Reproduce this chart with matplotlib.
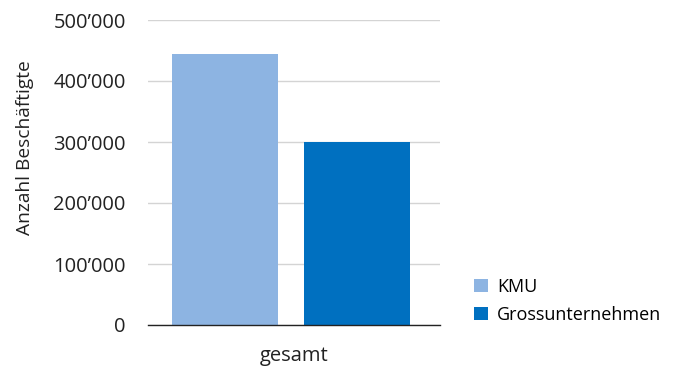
import matplotlib.pyplot as plt
from matplotlib.ticker import FuncFormatter

plt.rcParams['font.family'] = ['Open Sans', 'DejaVu Sans']

categories = ["gesamt"]
series_names = ["KMU", "Grossunternehmen"]
kmu = [445000]
gross = [300000]
colors = ["#8db4e2", "#0070c0"]

fig = plt.figure(figsize=(6.73, 3.67), dpi=100)
ax = fig.add_axes([148 / 673, 1 - 325 / 367, 292 / 673, 305 / 367])

width = 0.363
offsets = [-0.226, 0.226]
for vals, name, col, off in zip([kmu, gross], series_names, colors, offsets):
    xs = [i + off - 0.01 for i in range(len(categories))]
    ax.bar(xs, vals, width=width, color=col, label=name, zorder=2)

ax.set_xlim(-0.5, 0.5)
ax.set_ylim(0, 500000)
ax.set_yticks(range(0, 500001, 100000))
ax.yaxis.set_major_formatter(FuncFormatter(
    lambda v, p: "0" if v == 0 else f"{int(v):,}".replace(",", "\u2019")))
ax.set_xticks(range(len(categories)))
ax.set_xticklabels(categories)

ax.grid(axis="y", color="#d4d4d4", linewidth=1, zorder=0)
for s in ["top", "right", "left"]:
    ax.spines[s].set_visible(False)
ax.spines["bottom"].set_color("#222222")
ax.spines["bottom"].set_linewidth(1)
ax.tick_params(axis="both", length=0, colors="#222222")
ax.tick_params(axis="y", pad=16, labelsize=14.5)
ax.tick_params(axis="x", pad=15, labelsize=14.5)

ax.set_ylabel("Anzahl Beschäftigte", fontsize=13.8, color="#222222")
ax.yaxis.set_label_coords(-0.39, 0.58)

ax.legend(loc="center left", bbox_to_anchor=(1.116, 0.079), frameon=False,
          fontsize=13, handlelength=0.78, handleheight=0.78, handletextpad=0.5,
          labelspacing=0.55, borderpad=0, borderaxespad=0)

fig.savefig("out.png", dpi=100)
